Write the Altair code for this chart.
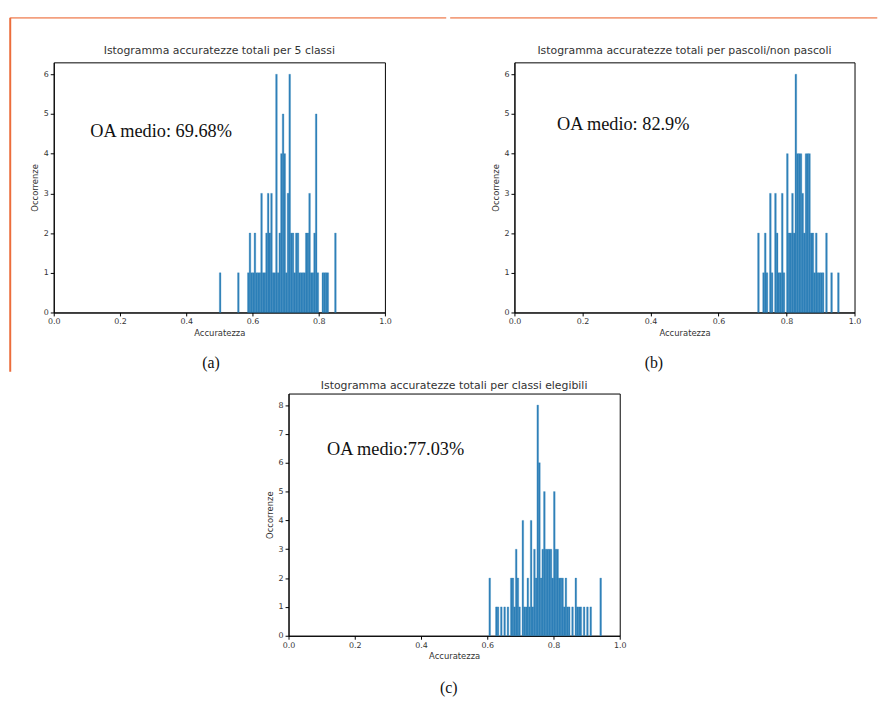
import altair as alt
import pandas as pd

BW = 0.005

# Panel (a): bin starts and counts
a_start = [0.500, 0.555, 0.585, 0.590, 0.595, 0.600, 0.605, 0.610, 0.615, 0.620,
           0.625, 0.630, 0.635, 0.640, 0.645, 0.650, 0.655, 0.660, 0.665, 0.670,
           0.675, 0.680, 0.685, 0.690, 0.695, 0.700, 0.705, 0.710, 0.715, 0.720,
           0.725, 0.730, 0.735, 0.740, 0.745, 0.750, 0.755, 0.760, 0.765, 0.770,
           0.775, 0.780, 0.785, 0.790, 0.795, 0.810, 0.815, 0.820, 0.825, 0.848]
a_count = [1, 1, 1, 2, 1, 1, 2, 1, 1, 1,
           3, 1, 1, 2, 3, 2, 3, 1, 1, 6,
           1, 2, 4, 5, 4, 1, 3, 6, 2, 2,
           1, 2, 2, 1, 1, 1, 1, 2, 2, 3,
           1, 1, 2, 5, 1, 1, 1, 1, 1, 2]

# Panel (b)
b_start = [0.715, 0.730, 0.735, 0.740, 0.750, 0.755, 0.765, 0.770, 0.775, 0.780,
           0.785, 0.790, 0.800, 0.805, 0.810, 0.815, 0.820, 0.825, 0.830, 0.835,
           0.840, 0.845, 0.850, 0.855, 0.860, 0.865, 0.870, 0.875, 0.880, 0.885,
           0.890, 0.895, 0.900, 0.905, 0.915, 0.930, 0.950]
b_count = [2, 1, 2, 1, 3, 1, 3, 2, 1, 1,
           3, 1, 4, 2, 2, 3, 2, 6, 4, 4,
           4, 3, 2, 4, 4, 4, 2, 2, 1, 2,
           1, 1, 1, 1, 2, 1, 1]

# Panel (c)
c_start = [0.605, 0.625, 0.630, 0.640, 0.650, 0.660, 0.670, 0.675, 0.680, 0.685,
           0.690, 0.695, 0.705, 0.710, 0.715, 0.720, 0.725, 0.730, 0.735, 0.740,
           0.745, 0.750, 0.755, 0.760, 0.765, 0.770, 0.775, 0.780, 0.785, 0.790,
           0.795, 0.800, 0.805, 0.810, 0.815, 0.820, 0.825, 0.830, 0.835, 0.840,
           0.845, 0.855, 0.865, 0.870, 0.875, 0.880, 0.890, 0.900, 0.910, 0.940]
c_count = [2, 1, 1, 1, 1, 1, 2, 2, 1, 3,
           2, 1, 4, 1, 1, 2, 1, 4, 1, 3,
           2, 8, 6, 2, 3, 5, 3, 3, 3, 3,
           2, 5, 3, 3, 2, 2, 2, 1, 2, 1,
           1, 1, 2, 1, 1, 1, 1, 1, 1, 2]

titles = ["Istogramma accuratezze totali per 5 classi",
          "Istogramma accuratezze totali per pascoli/non pascoli",
          "Istogramma accuratezze totali per classi elegibili"]
oa_texts = ["OA medio: 69.68%", "OA medio: 82.9%", "OA medio:77.03%"]
captions = ["(a)", "(b)", "(c)"]
x_ticks = [0.0, 0.2, 0.4, 0.6, 0.8, 1.0]

TXT = "#333333"
BAR = "#1f77b4"
TOP_LINE = "#f3a07f"
LEFT_LINE = "#ec6d3c"


def panel(starts, counts, title, title_y, ymax, yticks, oa, oa_px, caption,
          cap_px, w, h, deco):
    df = pd.DataFrame({
        "start": starts,
        "end": [s + BW for s in starts],
        "count": counts,
        "base": [0] * len(starts),
    })
    bars = alt.Chart(df).mark_rect(
        color=BAR, opacity=0.92, stroke=BAR, strokeWidth=0.3
    ).encode(
        x=alt.X("start:Q",
                scale=alt.Scale(domain=[0, 1], nice=False, zero=False),
                axis=alt.Axis(values=x_ticks, format=".1f", title="Accuratezza",
                              labelFlush=False, titlePadding=3)),
        x2="end:Q",
        y=alt.Y("count:Q",
                scale=alt.Scale(domain=[0, ymax], nice=False),
                axis=alt.Axis(values=yticks, format="d", title="Occorrenze",
                              titlePadding=4)),
        y2="base:Q",
    )
    one = pd.DataFrame({"t": [oa], "c": [caption], "h": [title]})
    title_mark = alt.Chart(one).mark_text(
        font="DejaVu Sans", fontSize=11, align="center", baseline="middle",
        color=TXT
    ).encode(text="h:N", x=alt.value(w / 2), y=alt.value(title_y))
    oa_mark = alt.Chart(one).mark_text(
        font="Liberation Serif", fontSize=18.5, align="left", baseline="middle",
        color="#111111"
    ).encode(text="t:N", x=alt.value(oa_px[0]), y=alt.value(oa_px[1]))
    cap_mark = alt.Chart(one).mark_text(
        font="Liberation Serif", fontSize=16, align="center", baseline="middle",
        color="#111111"
    ).encode(text="c:N", x=alt.value(cap_px[0]), y=alt.value(cap_px[1]))
    layers = [bars, title_mark, oa_mark, cap_mark]
    # scanned page border lines (decoration)
    for (color, op, x1, x2, y1, y2) in deco:
        enc = {"x": alt.value(x1), "y": alt.value(y1)}
        if x2 is not None:
            enc["x2"] = alt.value(x2)
        if y2 is not None:
            enc["y2"] = alt.value(y2)
        layers.append(alt.Chart(one).mark_rule(
            color=color, strokeWidth=2, opacity=op).encode(**enc))
    return alt.layer(*layers).properties(width=w, height=h)


pa = panel(a_start, a_count, titles[0], -11, 6.3, list(range(0, 7)), oa_texts[0],
           (37, 70), captions[0], (159, 304), 335, 253,
           [(TOP_LINE, 1, -44, 397, -45, None), (LEFT_LINE, 1, -44, None, -45, 313)])
pb = panel(b_start, b_count, titles[1], -11, 6.3, list(range(0, 7)), oa_texts[1],
           (43, 62), captions[1], (141, 304), 344, 253,
           [(TOP_LINE, 1, -65, 367, -45, None)])
pc = panel(c_start, c_count, titles[2], -8, 8.4, list(range(0, 9)), oa_texts[2],
           (39, 56), captions[2], (162, 298), 335, 245,
           [("white", 0, 359, None, 0, 2)])

top = alt.hconcat(pa, pb, spacing=0)
chart = alt.vconcat(top, pc, spacing=5, center=True).properties(
    padding={"left": 0, "top": 4, "right": 0, "bottom": 0},
    background="white",
).configure_view(
    stroke="black", strokeWidth=1
).configure_axis(
    grid=False, domainColor="black", tickColor="black", tickSize=3.5,
    labelColor=TXT, labelFont="DejaVu Sans", labelFontSize=8,
    titleColor=TXT, titleFont="DejaVu Sans", titleFontSize=8.5,
    titleFontWeight="normal", labelPadding=2,
)

chart.save("out.html", embed_options={"renderer": "svg", "actions": False})
